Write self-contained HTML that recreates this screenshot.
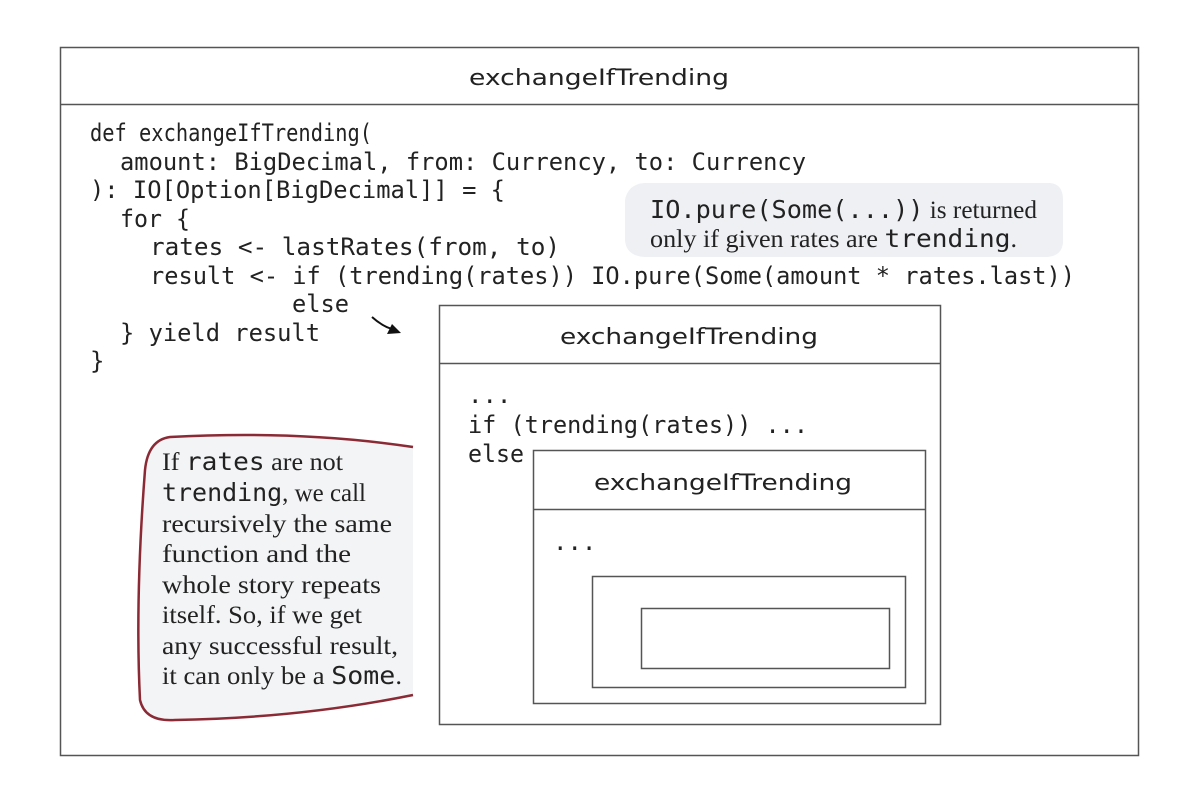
<!DOCTYPE html>
<html><head><meta charset="utf-8"><style>
html,body{margin:0;padding:0;background:#fff;}
svg{display:block;}
.c{font-family:"DejaVu Sans Mono","Liberation Mono",monospace;font-size:24px;fill:#222;}
.t{font-family:"DejaVu Sans","Liberation Sans",sans-serif;font-size:22px;fill:#222;}
.s{font-family:"Liberation Serif",serif;font-size:25px;fill:#222;}
.sm{font-family:"DejaVu Sans Mono","Liberation Mono",monospace;}
</style></head><body>
<svg width="1199" height="789" viewBox="0 0 1199 789" xmlns="http://www.w3.org/2000/svg">
<rect x="60.5" y="47.5" width="1078" height="708" fill="#fff" stroke="#555" stroke-width="1.5"/>
<line x1="60" y1="104.5" x2="1138" y2="104.5" stroke="#555" stroke-width="1.5"/>
<text class="t" x="599" y="85" text-anchor="middle" textLength="260" lengthAdjust="spacingAndGlyphs">exchangeIfTrending</text>

<text class="c" x="90" y="141" textLength="282" lengthAdjust="spacingAndGlyphs">def exchangeIfTrending(</text>
<text class="c" x="120" y="170" textLength="686" lengthAdjust="spacingAndGlyphs">amount: BigDecimal, from: Currency, to: Currency</text>
<text class="c" x="90" y="198" textLength="415" lengthAdjust="spacingAndGlyphs">): IO[Option[BigDecimal]] = {</text>
<text class="c" x="120" y="227" textLength="70" lengthAdjust="spacingAndGlyphs">for {</text>
<text class="c" x="150" y="255" textLength="410" lengthAdjust="spacingAndGlyphs">rates  &lt;- lastRates(from, to)</text>
<text class="c" x="150" y="284" textLength="925" lengthAdjust="spacingAndGlyphs">result &lt;- if (trending(rates)) IO.pure(Some(amount * rates.last))</text>
<text class="c" x="292" y="312" textLength="57" lengthAdjust="spacingAndGlyphs">else</text>
<text class="c" x="120" y="341" textLength="200" lengthAdjust="spacingAndGlyphs">} yield result</text>
<text class="c" x="90" y="369">}</text>

<path d="M625,200 Q628,184 645,183 L1050,183 Q1063,184 1063,200 L1063,242 Q1062,257 1045,257 L645,257 Q626,256 625,240 Z" fill="#eef0f3"/>
<text class="s" x="650" y="218" textLength="387" lengthAdjust="spacingAndGlyphs"><tspan class="sm">IO.pure(Some(...))</tspan> is returned</text>
<text class="s" x="650" y="247" textLength="367" lengthAdjust="spacingAndGlyphs">only if given rates are <tspan class="sm">trending</tspan>.</text>

<path d="M372,317 Q382,326 392,329" fill="none" stroke="#111" stroke-width="2"/>
<path d="M401,333 L387,334 L392,324 Z" fill="#111"/>

<rect x="439.5" y="305.5" width="501" height="419" fill="#fff" stroke="#555" stroke-width="1.5"/>
<line x1="439" y1="363.5" x2="940" y2="363.5" stroke="#555" stroke-width="1.5"/>
<text class="t" x="689" y="344" text-anchor="middle" textLength="258" lengthAdjust="spacingAndGlyphs">exchangeIfTrending</text>
<text class="c" x="468" y="403">...</text>
<text class="c" x="468" y="433" textLength="340" lengthAdjust="spacingAndGlyphs">if (trending(rates)) ...</text>
<text class="c" x="468" y="462" textLength="56" lengthAdjust="spacingAndGlyphs">else</text>

<rect x="533.5" y="450.5" width="392" height="253" fill="#fff" stroke="#555" stroke-width="1.5"/>
<line x1="533" y1="509.5" x2="925" y2="509.5" stroke="#555" stroke-width="1.5"/>
<text class="t" x="723" y="490" text-anchor="middle" textLength="258" lengthAdjust="spacingAndGlyphs">exchangeIfTrending</text>
<text class="c" x="553" y="550">...</text>
<rect x="592.5" y="576.5" width="313" height="111" fill="#fff" stroke="#555" stroke-width="1.5"/>
<rect x="641.5" y="608.5" width="248" height="60" fill="#fff" stroke="#555" stroke-width="1.5"/>

<path d="M413,447 Q300,430 170,437 Q148,440 145,470 Q135,600 140,700 Q145,722 175,720 Q300,718 413,695" fill="#f3f4f6" stroke="#8b2a34" stroke-width="2.5"/>
<g class="s">
<text x="162" y="470" textLength="181" lengthAdjust="spacingAndGlyphs">If <tspan class="sm">rates</tspan> are not</text>
<text x="162" y="501" textLength="204" lengthAdjust="spacingAndGlyphs"><tspan class="sm">trending</tspan>, we call</text>
<text x="162" y="532" textLength="230" lengthAdjust="spacingAndGlyphs">recursively the same</text>
<text x="162" y="562" textLength="189" lengthAdjust="spacingAndGlyphs">function and the</text>
<text x="162" y="593" textLength="219" lengthAdjust="spacingAndGlyphs">whole story repeats</text>
<text x="162" y="623" textLength="200" lengthAdjust="spacingAndGlyphs">itself. So, if we get</text>
<text x="162" y="654" textLength="236" lengthAdjust="spacingAndGlyphs">any successful result,</text>
<text x="162" y="684" textLength="240" lengthAdjust="spacingAndGlyphs">it can only be a <tspan class="sm">Some</tspan>.</text>
</g>
</svg>
</body></html>
